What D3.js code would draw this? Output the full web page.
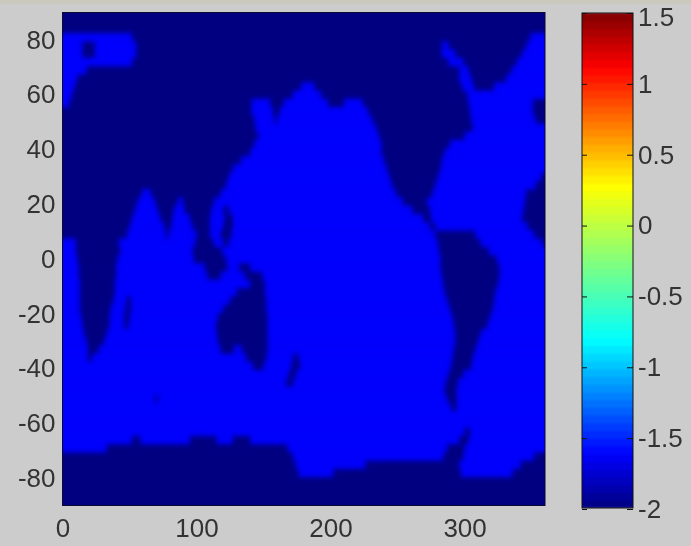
<!DOCTYPE html>
<html><head><meta charset="utf-8">
<script src="https://cdnjs.cloudflare.com/ajax/libs/d3/7.8.5/d3.min.js"></script>
<style>
html,body{margin:0;padding:0;background:#cccccc;overflow:hidden}
text{font-family:"Liberation Sans",Arial,sans-serif;font-size:26px;fill:#333}
</style></head><body><svg id="c" width="691" height="546"></svg>
<script>
const xTicks=[0,100,200,300];
const yTicks=[80,60,40,20,0,-20,-40,-60,-80];
const cbTicks=[1.5,1,0.5,0,-0.5,-1,-1.5,-2];
const landValue=-2;
const oceanValue=-1.62;
const latitudes=[87,84,81,78,75,72,69,66,63,60,57,54,51,48,45,42,39,36,33,30,27,24,21,18,15,12,9,6,3,0,-3,-6,-9,-12,-15,-18,-21,-24,-27,-30,-33,-36,-39,-42,-45,-48,-51,-54,-57,-60,-63,-66,-69,-72,-75,-78,-81,-84,-87];
const oceanSpans=[
[],[],
[[0,52],[349,360]],
[[0,15],[24,55],[283,288],[346,360]],
[[0,15],[24,55],[283,293],[343,360]],
[[0,52],[288,299],[339,360]],
[[0,18],[296,303],[335,360]],
[[0,11],[296,305],[331,360]],
[[0,9],[178,188],[298,307],[322,360]],
[[0,7],[172,193],[302,360]],
[[0,5],[141,155],[165,198],[210,224],[303,351]],
[[141,157],[162,228],[304,351]],
[[143,158],[160,231],[305,353]],
[[144,234],[306,360]],
[[146,236],[300,360]],
[[143,238],[289,360]],
[[140,238],[285,360]],
[[133,240],[283,360]],
[[127,242],[282,360]],
[[124,244],[280,357]],
[[122,246],[278,353]],
[[59,66],[118,249],[276,346]],
[[56,69],[86,90],[113,254],[272,345]],
[[54,71],[83,91],[111,120],[124,261],[274,344]],
[[52,73],[82,95],[110,121],[127,269],[275,343]],
[[50,76],[81,97],[110,120],[127,274],[278,347]],
[[48,77],[79,100],[110,118],[126,278],[308,352]],
[[0,10],[42,99],[113,120],[124,280],[312,358]],
[[0,10],[43,97],[119,281],[318,360]],
[[0,11],[41,98],[122,282],[324,360]],
[[0,12],[40,106],[123,132],[140,282],[326,360]],
[[0,12],[40,108],[118,136],[149,283],[326,360]],
[[0,13],[39,140],[151,284],[325,360]],
[[0,13],[39,130],[151,285],[323,360]],
[[0,13],[38,48],[51,125],[152,287],[322,360]],
[[0,13],[36,47],[51,120],[152,289],[321,360]],
[[0,14],[35,46],[50,116],[153,291],[319,360]],
[[0,15],[35,46],[49,114.5],[153,292],[317,360]],
[[0,16],[33,115],[153,293],[312,360]],
[[0,18],[31,116],[153,293],[310,360]],
[[0,19],[27,118],[128,134],[153,292],[308,360]],
[[0,19],[22,137],[152,172],[176,291],[306,360]],
[[0,142],[150,171],[177,290],[305,360]],
[[0,169],[174,288],[299,360]],
[[0,167],[172,286],[295,360]],
[[0,285],[294,360]],
[[0,69],[71,287],[294,360]],
[[0,290],[294,360]],
[[0,360]],
[[0,360]],
[[0,300],[304,360]],
[[0,52],[58,95],[115,127],[140,296],[303,360]],
[[0,33],[168,287],[300,360]],
[[172,284],[299,352]],
[[174,226],[296,342]],
[[176,202],[297,336]],
[],[],[]
];
const jetStops=[0,0.11,0.34,0.65,0.89,1];
const jetColors=["#000080","#0000ff","#00ffff","#ffff00","#ff0000","#800000"];
const levels=64;

const svg=d3.select("#c");
const W=691,H=546;
const plot={l:62.5,r:545,t:12.5,b:505.5};
const cb={l:582,r:633,t:13,b:508};
const x=d3.scaleLinear().domain([0,360]).range([plot.l,plot.r]);
const y=d3.scaleLinear().domain([90,-90]).range([plot.t,plot.b]);
const cy=d3.scaleLinear().domain([1.5,-2]).range([cb.t,cb.b+1]);
const t=d3.scaleLinear().domain([-2,1.5]).range([0,1]);
const jetRamp=d3.scaleLinear().domain(jetStops).range(jetColors);
const jet=v=>jetRamp(t(v));

const defs=svg.append("defs");
defs.append("clipPath").attr("id","pc").append("rect").attr("x",plot.l).attr("y",plot.t).attr("width",plot.r-plot.l).attr("height",plot.b-plot.t);
defs.append("clipPath").attr("id","cc").append("rect").attr("x",cb.l).attr("y",cb.t).attr("width",cb.r-cb.l).attr("height",cb.b-cb.t);
function blur(id,sd){
  const f=defs.append("filter").attr("id",id).attr("x","-5%").attr("y","-5%").attr("width","110%").attr("height","110%").attr("color-interpolation-filters","sRGB");
  f.append("feGaussianBlur").attr("stdDeviation",sd);
}
blur("b",2.6);blur("b2",0.9);blur("bt",0.35);

svg.append("rect").attr("width",W).attr("height",H).attr("fill","#cccccc");
svg.append("rect").attr("width",W).attr("height",4).attr("fill","#c9c9bd");

const overscan=14;
const mapG=svg.append("g").attr("clip-path","url(#pc)").append("g").attr("filter","url(#b)");
mapG.append("rect").attr("x",plot.l-overscan).attr("y",plot.t-overscan)
 .attr("width",plot.r-plot.l+2*overscan).attr("height",plot.b-plot.t+2*overscan).attr("fill",jet(landValue));
const spans=latitudes.flatMap((lat,i)=>oceanSpans[i].map(s=>({lat,a:s[0],b:s[1]})));
mapG.selectAll("rect.o").data(spans).join("rect").attr("class","o")
 .attr("x",d=>d.a===0?plot.l-overscan:x(d.a))
 .attr("width",d=>(d.b===360?plot.r+overscan:x(d.b))-(d.a===0?plot.l-overscan:x(d.a)))
 .attr("y",d=>y(d.lat+1.5)).attr("height",d=>y(d.lat-1.5)-y(d.lat+1.5)+0.4)
 .attr("fill",jet(oceanValue));

const fmt=d=>String(d);
const ax=svg.append("g").attr("transform",`translate(0,${plot.b})`).call(d3.axisBottom(x).tickValues(xTicks).tickSize(0).tickPadding(13).tickFormat(fmt));
const ay=svg.append("g").attr("transform",`translate(${plot.l},0)`).call(d3.axisLeft(y).tickValues(yTicks).tickSize(0).tickPadding(7).tickFormat(fmt));
[ax,ay].forEach(g=>{g.select(".domain").remove();g.attr("filter","url(#bt)");g.selectAll("text").attr("fill","#333").style("font-size","26px").style("font-family",'"Liberation Sans",Arial,sans-serif');});
svg.append("rect").attr("x",plot.l).attr("y",plot.t).attr("width",plot.r-plot.l).attr("height",plot.b-plot.t).attr("fill","none").attr("stroke","#0a0a30").attr("stroke-width",1);

const band=(cb.b-cb.t)/levels;
const lv=d3.range(levels);
const cbScale=d3.scaleLinear().domain([0,levels]).range([-2,1.5]);
const cg=svg.append("g").attr("clip-path","url(#cc)").append("g").attr("filter","url(#b2)");
cg.selectAll("rect").data(lv).join("rect").attr("x",cb.l-6).attr("width",cb.r-cb.l+12)
 .attr("y",d=>cb.b-(d+1)*band-0.5).attr("height",band+1).attr("fill",d=>jet(cbScale(d+0.5)));
svg.append("rect").attr("x",cb.l).attr("y",cb.t).attr("width",cb.r-cb.l).attr("height",cb.b-cb.t).attr("fill","none").attr("stroke","#111").attr("stroke-width",1);
const cRight=svg.append("g").attr("transform",`translate(${cb.r},0)`).call(d3.axisRight(cy).tickValues(cbTicks).tickSize(-6).tickPadding(12).tickFormat(fmt));
cRight.select(".domain").remove();
cRight.selectAll("line").attr("stroke","#111");
cRight.attr("filter","url(#bt)");
cRight.selectAll("text").attr("fill","#333").attr("x",5).style("font-size","26px").style("font-family",'"Liberation Sans",Arial,sans-serif')
 .attr("y",d=>d===cbTicks[0]?4:0);
const cLeft=svg.append("g").attr("transform",`translate(${cb.l},0)`).call(d3.axisLeft(cy).tickValues(cbTicks).tickSize(-5).tickFormat(()=>""));
cLeft.select(".domain").remove();
cLeft.selectAll("line").attr("stroke","#111");
</script></body></html>
